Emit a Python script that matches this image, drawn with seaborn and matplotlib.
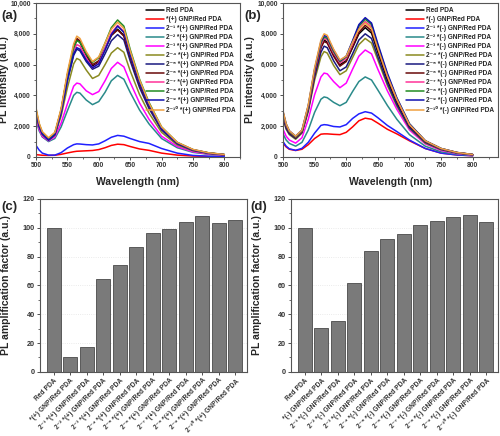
import numpy as np
import pandas as pd
import seaborn as sns
import matplotlib.pyplot as plt
from matplotlib.ticker import FuncFormatter, MultipleLocator

wavelength = [500, 505, 510, 520, 530, 540, 550, 560, 565, 570, 580, 590, 600,
              610, 620, 630, 640, 650, 665, 680, 700, 725, 750, 775, 800]

# Panel (a): (+) GNP series
a_red_pda = [2700, 1900, 1450, 1100, 1450, 3000, 5300, 7100, 7600, 7450, 6600, 5900, 6150, 7000, 7900, 8300, 7900, 6500, 4700, 3300, 1850, 900, 450, 250, 150]
a_p0 = [150, 130, 110, 100, 110, 170, 260, 340, 370, 380, 400, 420, 480, 600, 750, 830, 800, 680, 520, 430, 250, 120, 60, 30, 20]
a_p1 = [750, 450, 250, 120, 120, 280, 580, 800, 850, 840, 800, 780, 850, 1050, 1280, 1400, 1350, 1200, 1000, 880, 550, 250, 100, 50, 30]
a_p2 = [2400, 1700, 1300, 1000, 1200, 1950, 3000, 4000, 4200, 4150, 3700, 3400, 3600, 4200, 4950, 5300, 5050, 4200, 3050, 2150, 1200, 600, 300, 170, 100]
a_p3 = [2600, 1800, 1350, 1050, 1300, 2200, 3450, 4600, 4800, 4750, 4300, 4050, 4250, 4950, 5750, 6150, 5850, 4850, 3500, 2450, 1350, 680, 340, 190, 110]
a_p4 = [2800, 1950, 1450, 1100, 1400, 2650, 4500, 6050, 6400, 6300, 5650, 5100, 5300, 6000, 6750, 7100, 6800, 5600, 4050, 2850, 1600, 780, 400, 220, 130]
a_p5 = [2900, 2000, 1500, 1100, 1450, 2850, 4950, 6600, 7000, 6900, 6200, 5700, 5900, 6700, 7550, 7950, 7600, 6250, 4500, 3150, 1750, 850, 430, 240, 140]
a_p6 = [3000, 2100, 1550, 1150, 1500, 3050, 5350, 7200, 7700, 7550, 6700, 6000, 6250, 7050, 7900, 8250, 7850, 6500, 4700, 3300, 1850, 900, 460, 260, 150]
a_p7 = [3000, 2050, 1550, 1150, 1500, 2950, 5150, 6900, 7300, 7200, 6450, 5800, 6100, 7050, 8050, 8550, 8150, 6700, 4850, 3400, 1900, 930, 470, 260, 150]
a_p8 = [3100, 2150, 1600, 1200, 1550, 3050, 5300, 7100, 7550, 7450, 6700, 6150, 6450, 7400, 8400, 8900, 8500, 7000, 5050, 3550, 1950, 950, 480, 270, 160]
a_p9 = [2900, 2000, 1500, 1100, 1450, 2900, 5000, 6700, 7100, 7000, 6300, 5800, 6050, 6950, 7950, 8500, 8100, 6650, 4800, 3350, 1850, 900, 460, 250, 150]
a_p10 = [3200, 2200, 1650, 1250, 1600, 3150, 5500, 7350, 7850, 7700, 6850, 6200, 6500, 7400, 8300, 8750, 8350, 6900, 5000, 3500, 1950, 950, 490, 270, 160]

# Panel (b): (-) GNP series
b_red_pda = [2700, 1950, 1550, 1250, 1600, 3100, 5400, 7150, 7600, 7450, 6650, 6000, 6250, 7100, 8000, 8400, 8050, 6800, 5000, 3500, 2000, 1000, 520, 280, 150]
b_m0 = [900, 650, 500, 420, 500, 800, 1200, 1480, 1500, 1500, 1470, 1450, 1600, 1950, 2350, 2520, 2450, 2200, 1800, 1500, 1050, 550, 250, 130, 80]
b_m1 = [1000, 700, 530, 430, 560, 950, 1550, 2050, 2100, 2080, 1980, 1950, 2100, 2500, 2800, 2940, 2850, 2550, 2050, 1650, 1100, 550, 250, 130, 80]
b_m2 = [1500, 1100, 880, 700, 950, 1750, 2900, 3750, 3900, 3850, 3550, 3330, 3550, 4250, 4900, 5200, 5000, 4350, 3350, 2450, 1450, 700, 330, 180, 100]
b_m3 = [1800, 1350, 1100, 900, 1250, 2450, 4050, 5200, 5450, 5400, 4900, 4500, 4800, 5700, 6550, 6950, 6700, 5700, 4300, 3100, 1750, 850, 420, 220, 120]
b_m4 = [2500, 1800, 1450, 1150, 1550, 2950, 5000, 6500, 6850, 6750, 5950, 5350, 5600, 6450, 7300, 7700, 7400, 6300, 4650, 3300, 1850, 900, 470, 250, 140]
b_m5 = [2600, 1850, 1500, 1200, 1600, 3050, 5200, 6800, 7200, 7100, 6250, 5600, 5850, 6700, 7600, 8000, 7700, 6500, 4800, 3400, 1900, 950, 490, 260, 150]
b_m6 = [2800, 2000, 1600, 1250, 1650, 3150, 5400, 7100, 7500, 7400, 6550, 5900, 6200, 7150, 8100, 8550, 8200, 6950, 5150, 3650, 2050, 1000, 520, 280, 150]
b_m7 = [2850, 2050, 1650, 1300, 1700, 3250, 5550, 7300, 7700, 7600, 6750, 6100, 6400, 7350, 8350, 8800, 8450, 7150, 5300, 3750, 2100, 1050, 540, 290, 160]
b_m8 = [2900, 2100, 1650, 1300, 1700, 3300, 5650, 7400, 7800, 7700, 6850, 6200, 6500, 7500, 8500, 8950, 8600, 7250, 5350, 3800, 2150, 1050, 550, 290, 160]
b_m9 = [2950, 2150, 1700, 1350, 1750, 3350, 5700, 7500, 7900, 7800, 6950, 6250, 6550, 7550, 8600, 9050, 8700, 7350, 5450, 3850, 2150, 1050, 550, 290, 160]
b_m10 = [3000, 2150, 1700, 1350, 1750, 3400, 5800, 7600, 8000, 7900, 7000, 6300, 6550, 7450, 8300, 8700, 8350, 7050, 5250, 3750, 2100, 1050, 550, 290, 160]

# Panels (c) and (d): amplification factors
amp_c = [100, 10.3, 17.6, 64.3, 74.4, 86.3, 96.3, 99.4, 103.6, 107.8, 103.2, 105.3]
amp_d = [100, 30.2, 35.2, 61.8, 83.5, 92, 95.6, 102, 104.8, 107.6, 109, 104.1]

dilutions = ['2⁻¹', '2⁻²', '2⁻³', '2⁻⁴', '2⁻⁵', '2⁻⁶', '2⁻⁷', '2⁻⁸', '2⁻⁹', '2⁻¹⁰']
labels_plus = ['Red PDA', '*(+) GNP/Red PDA'] + \
    [d + ' *(+) GNP/Red PDA' for d in dilutions]
labels_minus = ['Red PDA', '*(-) GNP/Red PDA'] + \
    [d + ' *(-) GNP/Red PDA' for d in dilutions]

colors = ['#000000', '#ff0000', '#2020ff', '#2a8a8a', '#ff00ff', '#8a8a20',
          '#1a1a80', '#6a0a0a', '#ff3399', '#228b22', '#1010b0', '#f0a040']

sns.set_style('ticks')
plt.rcParams['font.family'] = ['Liberation Sans', 'DejaVu Sans']

fig = plt.figure(figsize=(5.0, 4.36), dpi=100)
ax_a = fig.add_axes([0.072, 0.640, 0.408, 0.353])
ax_b = fig.add_axes([0.566, 0.640, 0.430, 0.353])
ax_c = fig.add_axes([0.080, 0.147, 0.414, 0.397])
ax_d = fig.add_axes([0.582, 0.147, 0.414, 0.397])


def style_axes(ax):
    for sp in ax.spines.values():
        sp.set_color('#555555')
        sp.set_linewidth(0.8)
    ax.tick_params(axis='both', which='major', labelsize=4.8, length=2.5,
                   width=0.6, direction='out', colors='#333333', pad=1.2)
    ax.tick_params(axis='both', which='minor', length=1.5, width=0.5,
                   direction='out', colors='#333333')
    for t in ax.get_xticklabels() + ax.get_yticklabels():
        t.set_fontweight('bold')


def spectra(ax, series, labels, panel_label, px, xmax):
    rows = []
    for name, vals in zip(labels, series):
        for w, v in zip(wavelength, vals):
            rows.append({'wl': w, 'pl': v, 'sample': name})
    df = pd.DataFrame(rows)
    sns.lineplot(data=df, x='wl', y='pl', hue='sample', hue_order=labels,
                 palette=colors, linewidth=1.1, ax=ax, sort=False, legend=False)
    ax.set_xlim(500, xmax)
    ax.set_ylim(0, 10000)
    ax.xaxis.set_minor_locator(MultipleLocator(25))
    ax.set_xticks([500, 550, 600, 650, 700, 750, 800])
    ax.yaxis.set_major_locator(MultipleLocator(2000))
    ax.yaxis.set_minor_locator(MultipleLocator(1000))
    ax.yaxis.set_major_formatter(FuncFormatter(lambda v, p: '{:,.0f}'.format(v)))
    ax.set_xlabel('Wavelength (nm)', fontsize=7.5, fontweight='bold')
    ax.set_ylabel('PL intensity (a.u.)', fontsize=7.5, fontweight='bold')
    ax.xaxis.set_label_coords(0.5, -0.13)
    ax.yaxis.set_label_coords(-0.13, 0.5)
    handles = [plt.Line2D([], [], color=c, lw=1.1) for c in colors]
    leg = ax.legend(handles, labels, loc='upper right', frameon=False,
                    fontsize=4.7, labelspacing=0.3, handlelength=2.7,
                    handletextpad=0.3, borderaxespad=0.25,
                    bbox_to_anchor=(1.0, 1.0))
    for t in leg.get_texts():
        t.set_fontweight('bold')
    style_axes(ax)
    fig.text(px, 0.963, panel_label, fontsize=9.5, fontweight='bold', va='center')


def bars(ax, values, labels, panel_label, px):
    df = pd.DataFrame({'sample': labels, 'amp': values})
    ax.grid(axis='y', color='#e4e4e4', linestyle=':', linewidth=0.6)
    ax.set_axisbelow(True)
    sns.barplot(data=df, x='sample', y='amp', color='#7a7a7a', saturation=1,
                edgecolor='#4a4a4a', linewidth=0.6, width=0.85, ax=ax)
    ax.set_xlim(-0.84, 11.7)
    ax.set_ylim(0, 120)
    ax.yaxis.set_major_locator(MultipleLocator(20))
    ax.yaxis.set_minor_locator(MultipleLocator(10))
    ax.set_xlabel('')
    ax.set_ylabel('PL amplification factor (a.u.)', fontsize=7.5, fontweight='bold')
    ax.yaxis.set_label_coords(-0.14, 0.5)
    ax.set_xticks(range(len(labels)))
    ax.set_xticklabels(labels, rotation=45, ha='right', rotation_mode='anchor',
                       fontsize=4.6)
    style_axes(ax)
    ax.tick_params(axis='y', labelsize=5.2)
    fig.text(px, 0.525, panel_label, fontsize=9.5, fontweight='bold', va='center')


spectra(ax_a, [a_red_pda, a_p0, a_p1, a_p2, a_p3, a_p4, a_p5, a_p6, a_p7, a_p8, a_p9, a_p10],
        labels_plus, '(a)', 0.002, 825)
spectra(ax_b, [b_red_pda, b_m0, b_m1, b_m2, b_m3, b_m4, b_m5, b_m6, b_m7, b_m8, b_m9, b_m10],
        labels_minus, '(b)', 0.488, 840)
bars(ax_c, amp_c, labels_plus, '(c)', 0.002)
bars(ax_d, amp_d, labels_minus, '(d)', 0.500)

fig.savefig('out.png', dpi=100)
